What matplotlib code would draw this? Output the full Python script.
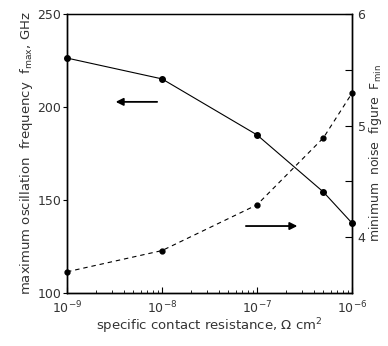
import numpy as np
import matplotlib
matplotlib.use('Agg')
import matplotlib.pyplot as plt

# values
resistance = [1e-9, 1e-8, 1e-7, 5e-7, 1e-6]          # specific contact resistance, Ohm cm^2
fmax = [226.3, 215.1, 185.0, 154.3, 137.6]            # GHz, solid curve (left axis)
fmin = [3.69, 3.88, 4.29, 4.89, 5.29]                 # noise figure, dashed curve (right axis)

xticks = [1e-9, 1e-8, 1e-7, 1e-6]
xtick_labels = ['$10^{-9}$', '$10^{-8}$', '$10^{-7}$', '$10^{-6}$']
left_ticks = [100, 150, 200, 250]
right_ticks = [4, 5, 6]

txt = '#333333'

fig = plt.figure(figsize=(3.88, 3.46), dpi=100)
ax = fig.add_axes([0.1727, 0.1532, 0.7345, 0.8064])
ax2 = ax.twinx()

# solid curve - fmax
ax.plot(resistance, fmax, color='black', lw=0.8, marker='o', ms=4, clip_on=False, zorder=3)
# dashed curve - Fmin
ax2.plot(resistance, fmin, color='black', lw=0.8, ls=(0, (4, 3.5)), marker='o', ms=3.5,
         clip_on=False, zorder=3)

ax.set_xscale('log')
ax.set_xlim(1e-9, 1e-6)
ax.set_ylim(100, 250)
ax2.set_ylim(3.5, 6)

ax.set_xticks(xticks)
ax.set_xticklabels(xtick_labels, fontsize=9, color=txt)
ax.set_yticks(left_ticks)
ax.set_yticklabels([str(t) for t in left_ticks], fontsize=9, color=txt)
ax2.set_yticks(right_ticks)
ax2.set_yticklabels([str(t) for t in right_ticks], fontsize=9, color=txt)
ax2.set_yticks([3.5, 4.5, 5.5], minor=True)

ax.tick_params(axis='x', which='both', direction='in', top=False)
ax.tick_params(axis='x', which='major', length=4, width=0.8, pad=5)
ax.tick_params(axis='x', which='minor', length=2.5, width=0.6)
ax.tick_params(axis='y', which='major', direction='out', length=3, width=0.8, pad=1)
ax2.tick_params(axis='y', which='both', direction='in', width=0.8, pad=4)
ax2.tick_params(axis='y', which='major', length=5)
ax2.tick_params(axis='y', which='minor', length=5)

for a in (ax, ax2):
    for s in a.spines.values():
        s.set_linewidth(1.0)
        s.set_color('black')
ax.spines['top'].set_linewidth(0.8)

ax.set_xlabel('specific contact resistance, $\\Omega$ cm$^2$', fontsize=9.5, color=txt, labelpad=0)
ax.set_ylabel('maximum oscillation  frequency  f$_{\\rm max}$, GHz', fontsize=9.5, color=txt, labelpad=2)
ax2.set_ylabel('minimum  noise  figure  F$_{\\rm min}$', fontsize=9, color=txt,
               rotation=90, labelpad=1)

# arrows showing which axis each curve belongs to
ax.annotate('', xy=(0.161, 0.685), xytext=(0.326, 0.685), xycoords='axes fraction',
            arrowprops=dict(arrowstyle='-|>', color='black', lw=1.3, mutation_scale=11))
ax.annotate('', xy=(0.818, 0.240), xytext=(0.618, 0.240), xycoords='axes fraction',
            arrowprops=dict(arrowstyle='-|>', color='black', lw=1.3, mutation_scale=11))

fig.savefig('out.png', dpi=100)
